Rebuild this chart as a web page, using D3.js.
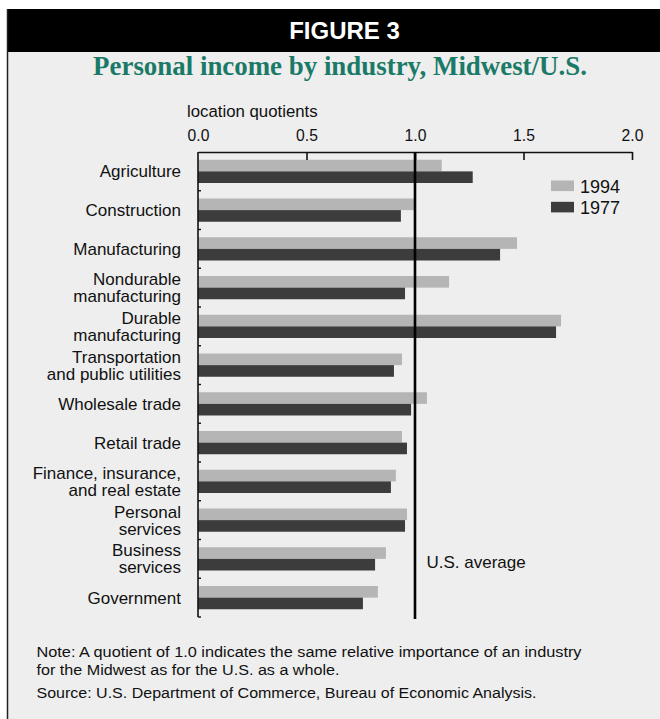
<!DOCTYPE html>
<html>
<head>
<meta charset="utf-8">
<script src="https://cdn.jsdelivr.net/npm/d3@7"></script>
<style>
  html, body { margin: 0; padding: 0; background: #ffffff; }
  svg { display: block; }
</style>
</head>
<body>
<div id="chart"></div>
<script>
// ---- Data ----
const categories = [
  "Agriculture", "Construction", "Manufacturing", "Nondurable manufacturing",
  "Durable manufacturing", "Transportation and public utilities", "Wholesale trade",
  "Retail trade", "Finance, insurance, and real estate", "Personal services",
  "Business services", "Government"
];
const categoryLines = [
  ["Agriculture"], ["Construction"], ["Manufacturing"], ["Nondurable", "manufacturing"],
  ["Durable", "manufacturing"], ["Transportation", "and public utilities"], ["Wholesale trade"],
  ["Retail trade"], ["Finance, insurance,", "and real estate"], ["Personal", "services"],
  ["Business", "services"], ["Government"]
];
const seriesNames = ["1994", "1977"];
const values1994 = [1.123, 1.0, 1.470, 1.157, 1.673, 0.940, 1.055, 0.940, 0.912, 0.963, 0.866, 0.829];
const values1977 = [1.266, 0.935, 1.392, 0.954, 1.650, 0.903, 0.982, 0.963, 0.889, 0.954, 0.816, 0.760];
const xTicks = [0, 0.5, 1.0, 1.5, 2.0];
const xTickLabels = ["0.0", "0.5", "1.0", "1.5", "2.0"];
const referenceValue = 1.0;

const W = 660, H = 719;
const colors = { "1994": "#b5b5b5", "1977": "#3c3c3c" };
const font = "'Liberation Sans', Arial, Helvetica, sans-serif";

const svg = d3.select("#chart").append("svg").attr("width", W).attr("height", H);

// ---- Frame ----
svg.append("rect").attr("x", 0).attr("y", 0).attr("width", W).attr("height", H).attr("fill", "#ffffff");
svg.append("rect").attr("x", 7).attr("y", 9).attr("width", W - 7).attr("height", H - 9).attr("fill", "#eeeeee");
svg.append("rect").attr("x", 7).attr("y", 9).attr("width", W - 7).attr("height", 43).attr("fill", "#000000");
svg.append("line").attr("x1", 7.5).attr("x2", 7.5).attr("y1", 9).attr("y2", H)
  .attr("stroke", "#222").attr("stroke-width", 1.5);

svg.append("text").attr("x", 344.5).attr("y", 39).attr("text-anchor", "middle")
  .attr("fill", "#ffffff").attr("font-family", font).attr("font-weight", "bold")
  .attr("font-size", 24).text("FIGURE 3");

svg.append("text").attr("x", 340).attr("y", 74.5).attr("text-anchor", "middle")
  .attr("fill", "#1a7a67").attr("font-family", "'Liberation Serif', 'Times New Roman', serif")
  .attr("font-weight", "bold").attr("font-size", 26.9).text("Personal income by industry, Midwest/U.S.");

// ---- Scales ----
const x = d3.scaleLinear().domain([0, 2]).range([198, 632]);
const y0 = d3.scaleBand().domain(categories).range([152, 617]).paddingInner(0.4).paddingOuter(0.2);
const y1 = d3.scaleBand().domain(seriesNames).range([0, y0.bandwidth()]);

// ---- Axis title ----
svg.append("text").attr("x", 187).attr("y", 116.5).attr("fill", "#111")
  .attr("font-family", font).attr("font-size", 16.8).text("location quotients");

// ---- Bars ----
const data = categories.map((c, i) => ({ c, vals: [
  { s: "1994", v: values1994[i] }, { s: "1977", v: values1977[i] } ] }));

const g = svg.append("g");
g.selectAll("g.cat").data(data).join("g").attr("class", "cat")
  .attr("transform", d => `translate(0,${y0(d.c)})`)
  .selectAll("rect").data(d => d.vals).join("rect")
  .attr("x", x(0)).attr("y", d => y1(d.s))
  .attr("width", d => x(d.v) - x(0)).attr("height", y1.bandwidth())
  .attr("fill", d => colors[d.s]);

// ---- Top axis ----
const xAxis = d3.axisTop(x).tickValues(xTicks).tickFormat((d, i) => xTickLabels[i])
  .tickSizeInner(-8).tickSizeOuter(0).tickPadding(19);
const ax = svg.append("g").attr("transform", "translate(0,152)").call(xAxis);
ax.select(".domain").attr("stroke", "#111").attr("stroke-width", 1.6);
ax.selectAll(".tick line").attr("stroke", "#111").attr("stroke-width", 1.6);
ax.selectAll(".tick text").attr("font-family", font).attr("font-size", 15.7).attr("fill", "#111")
  .attr("dy", 0).attr("y", -11);
ax.selectAll(".tick").filter(d => d === 0).select("line").remove();

// ---- Left axis ----
const yBoundaries = d3.range(categories.length + 1).map(i => y0.range()[0] + i * y0.step());
svg.append("line").attr("x1", x(0)).attr("x2", x(0)).attr("y1", 152).attr("y2", 617)
  .attr("stroke", "#111").attr("stroke-width", 1.6);
svg.selectAll("line.ytick").data(yBoundaries.slice(1)).join("line").attr("class", "ytick")
  .attr("x1", x(0)).attr("x2", x(0) + 3).attr("y1", d => d).attr("y2", d => d)
  .attr("stroke", "#111").attr("stroke-width", 1.4);

// ---- Category labels ----
const lh = 17;
const lab = svg.append("g").attr("font-family", font).attr("font-size", 17).attr("fill", "#111")
  .attr("text-anchor", "end");
categories.forEach((c, i) => {
  const lines = categoryLines[i];
  const cy = y0(c) + y0.bandwidth() / 2;
  const t = lab.append("text");
  lines.forEach((ln, j) => {
    t.append("tspan").attr("x", 181)
      .attr("y", cy + 6 + (j - (lines.length - 1) / 2) * lh).text(ln);
  });
});

// ---- Reference line ----
svg.append("line").attr("x1", x(referenceValue)).attr("x2", x(referenceValue))
  .attr("y1", 152).attr("y2", 619).attr("stroke", "#000").attr("stroke-width", 2.6);
svg.append("text").attr("x", 426.5).attr("y", 567.5).attr("fill", "#111")
  .attr("font-family", font).attr("font-size", 17).text("U.S. average");

// ---- Legend ----
const leg = svg.append("g").attr("transform", "translate(551,180.5)");
seriesNames.forEach((s, i) => {
  leg.append("rect").attr("x", 0).attr("y", i * 21.3).attr("width", 23).attr("height", 10.6)
    .attr("fill", colors[s]);
  leg.append("text").attr("x", 29).attr("y", i * 21.3 + 12).attr("fill", "#111")
    .attr("font-family", font).attr("font-size", 18).text(s);
});

// ---- Notes ----
const notes = svg.append("g").attr("font-family", font).attr("font-size", 15.2).attr("fill", "#111");
notes.append("text").attr("x", 36.5).attr("y", 657.3)
  .attr("textLength", 545).attr("lengthAdjust", "spacingAndGlyphs")
  .text("Note: A quotient of 1.0 indicates the same relative importance of an industry");
notes.append("text").attr("x", 36.5).attr("y", 675)
  .attr("textLength", 303).attr("lengthAdjust", "spacingAndGlyphs")
  .text("for the Midwest as for the U.S. as a whole.");
notes.append("text").attr("x", 36.5).attr("y", 697.7)
  .attr("textLength", 500).attr("lengthAdjust", "spacingAndGlyphs")
  .text("Source: U.S. Department of Commerce, Bureau of Economic Analysis.");
</script>
</body>
</html>
